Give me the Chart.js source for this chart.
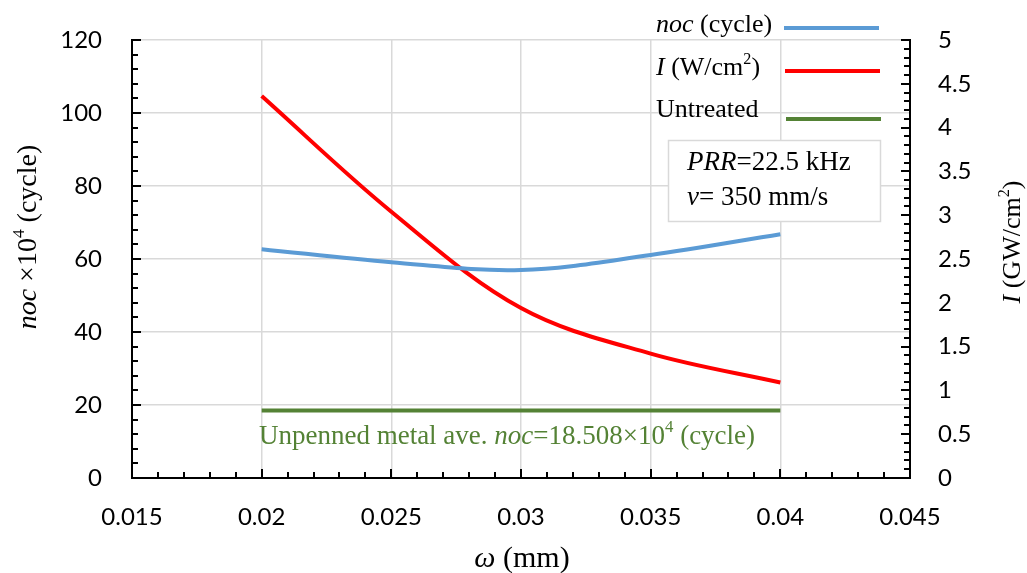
<!DOCTYPE html>
<html>
<head>
<meta charset="utf-8">
<script src="https://cdn.jsdelivr.net/npm/chart.js@4.4.1/dist/chart.umd.min.js"></script>
<style>
  html, body { margin: 0; padding: 0; background: #fff; }
  #wrap { width: 1027px; height: 573px; }
</style>
</head>
<body>
<div id="wrap"><canvas id="myChart" width="1027" height="573"></canvas></div>
<script>
// data
var omega = [0.02, 0.025, 0.03, 0.035, 0.04]
var nocCycle = [62.7, 59.1, 57.0, 61.1, 66.8]
var intensity = [4.36, 3.04, 1.94, 1.42, 1.09]
var untreatedX = [0.02, 0.04]
var untreatedNoc = [18.508, 18.508]

var SERIF = '"Liberation Serif", "Times New Roman", serif'
var SANS = 'Lato, "Open Sans", sans-serif'

function pts(xs, ys) {
    return xs.map(function (x, i) { return { x: x, y: ys[i] } })
}

// parts: [text, style]  style: '' | 'i' | 'sup'
function fontFor(style, size) {
    var s = style == 'sup' ? size * 0.62 : size
    return (style == 'i' ? 'italic ' : '') + s + 'px ' + SERIF
}
function drawRich(ctx, parts, x, y, size, color, align) {
    var w = 0
    parts.forEach(function (p) { ctx.font = fontFor(p[1], size); w += ctx.measureText(p[0]).width })
    var cx = align == 'center' ? x - w / 2 : (align == 'right' ? x - w : x)
    ctx.fillStyle = color
    ctx.textBaseline = 'middle'
    ctx.textAlign = 'left'
    parts.forEach(function (p) {
        ctx.font = fontFor(p[1], size)
        var dy = p[1] == 'sup' ? -size * 0.33 : 0
        ctx.fillText(p[0], cx, y + dy)
        cx += ctx.measureText(p[0]).width
    })
}

function fixV(w) {
    return function (s) { s.width = w; s.paddingTop = 0; s.paddingBottom = 0 }
}

var decor = {
    id: 'decor',
    afterDraw: function (chart) {
        var ctx = chart.ctx
        var x = chart.scales.x, y = chart.scales.y, y1 = chart.scales.y1
        var a = chart.chartArea
        ctx.save()
        // inner tick marks
        ctx.strokeStyle = '#000'
        ctx.lineWidth = 2
        ctx.beginPath()
        for (var i = 0; i <= 30; i++) {
            var py = Math.round(y.getPixelForValue(i * 4))
            var len = i % 5 == 0 ? 9 : 6
            ctx.moveTo(a.left, py); ctx.lineTo(a.left + len, py)
        }
        for (var i = 0; i <= 50; i++) {
            var py = Math.round(y1.getPixelForValue(i * 0.1))
            var len = i % 5 == 0 ? 9 : 6
            ctx.moveTo(a.right, py); ctx.lineTo(a.right - len, py)
        }
        for (var i = 0; i <= 30; i++) {
            var px = Math.round(x.getPixelForValue(0.015 + i * 0.001))
            var len = i % 5 == 0 ? 9 : 6
            ctx.moveTo(px, a.bottom); ctx.lineTo(px, a.bottom - len)
        }
        ctx.stroke()

        // axis titles
        ctx.save()
        ctx.translate(29, 237)
        ctx.rotate(-Math.PI / 2)
        drawRich(ctx, [['noc', 'i'], [' \u00d710', ''], ['4', 'sup'], [' (cycle)', '']], 0, 0, 28, '#000', 'center')
        ctx.restore()
        ctx.save()
        ctx.translate(1013, 242)
        ctx.rotate(-Math.PI / 2)
        drawRich(ctx, [['I', 'i'], [' (GW/cm', ''], ['2', 'sup'], [')', '']], 0, 0, 26, '#000', 'center')
        ctx.restore()
        drawRich(ctx, [['\u03c9', 'i'], [' (mm)', '']], 522, 559, 30, '#000', 'center')

        // legend
        var leg = [
            [[['noc', 'i'], [' (cycle)', '']], '#5b9bd5', 25, 28, 784],
            [[['I', 'i'], [' (W/cm', ''], ['2', 'sup'], [')', '']], '#ff0000', 68, 71, 785],
            [[['Untreated', '']], '#548235', 110, 119, 786]
        ]
        leg.forEach(function (l) {
            drawRich(ctx, l[0], 656, l[2], 26, '#000', 'left')
            ctx.strokeStyle = l[1]
            ctx.lineWidth = 4
            ctx.beginPath()
            ctx.moveTo(l[4], l[3]); ctx.lineTo(l[4] + 95, l[3])
            ctx.stroke()
        })

        // parameter box
        ctx.fillStyle = '#fff'
        ctx.fillRect(668, 140, 213, 82)
        ctx.strokeStyle = '#d9d9d9'
        ctx.lineWidth = 1.5
        ctx.strokeRect(668.5, 140.5, 212, 81)
        drawRich(ctx, [['PRR', 'i'], ['=22.5 kHz', '']], 687, 163, 27, '#000', 'left')
        drawRich(ctx, [['v', 'i'], ['= 350 mm/s', '']], 687, 198, 27, '#000', 'left')

        // untreated note
        drawRich(ctx, [['Unpenned metal ave. ', ''], ['noc', 'i'], ['=18.508\u00d710', ''], ['4', 'sup'], [' (cycle)', '']],
            507, 437, 27, '#548235', 'center')
        ctx.restore()
    }
}

var ctx = document.getElementById("myChart")
var myChart = new Chart(ctx, {
    type: 'line',
    data: {
        datasets: [{
            label: 'noc (cycle)',
            data: pts(omega, nocCycle),
            yAxisID: 'y',
            borderColor: '#5b9bd5',
            borderWidth: 4,
            tension: 0.35,
            pointRadius: 0
        }, {
            label: 'I (W/cm2)',
            data: pts(omega, intensity),
            yAxisID: 'y1',
            borderColor: '#ff0000',
            borderWidth: 4,
            tension: 0.35,
            pointRadius: 0
        }, {
            label: 'Untreated',
            data: pts(untreatedX, untreatedNoc),
            yAxisID: 'y',
            borderColor: '#548235',
            borderWidth: 4,
            pointRadius: 0
        }]
    },
    options: {
        responsive: false,
        animation: false,
        layout: { padding: { top: 40, left: 0, right: 0, bottom: 0 } },
        plugins: { legend: { display: false }, tooltip: { enabled: false } },
        scales: {
            x: {
                type: 'linear',
                min: 0.015,
                max: 0.045,
                afterFit: function (s) { s.height = 95; s.paddingLeft = 0; s.paddingRight = 0 },
                ticks: {
                    stepSize: 0.005,
                    padding: 25,
                    color: '#000',
                    font: { family: SANS, size: 24 },
                    maxRotation: 0,
                    callback: function (v) { return String(parseFloat(v.toFixed(3))) }
                },
                grid: { color: '#d9d9d9', lineWidth: 1.5, drawTicks: false },
                border: { color: '#000', width: 2 }
            },
            y: {
                position: 'left',
                min: 0,
                max: 120,
                afterFit: fixV(132),
                ticks: {
                    stepSize: 20,
                    padding: 30,
                    color: '#000',
                    font: { family: SANS, size: 24 }
                },
                grid: { color: '#d9d9d9', lineWidth: 1.5, drawTicks: false },
                border: { color: '#000', width: 2 }
            },
            y1: {
                position: 'right',
                min: 0,
                max: 5,
                afterFit: fixV(117),
                ticks: {
                    stepSize: 0.5,
                    padding: 28,
                    color: '#000',
                    font: { family: SANS, size: 24 },
                    callback: function (v) { return String(parseFloat(v.toFixed(1))) }
                },
                grid: { display: false, drawTicks: false },
                border: { color: '#000', width: 2 }
            }
        }
    },
    plugins: [decor]
})
</script>
</body>
</html>
